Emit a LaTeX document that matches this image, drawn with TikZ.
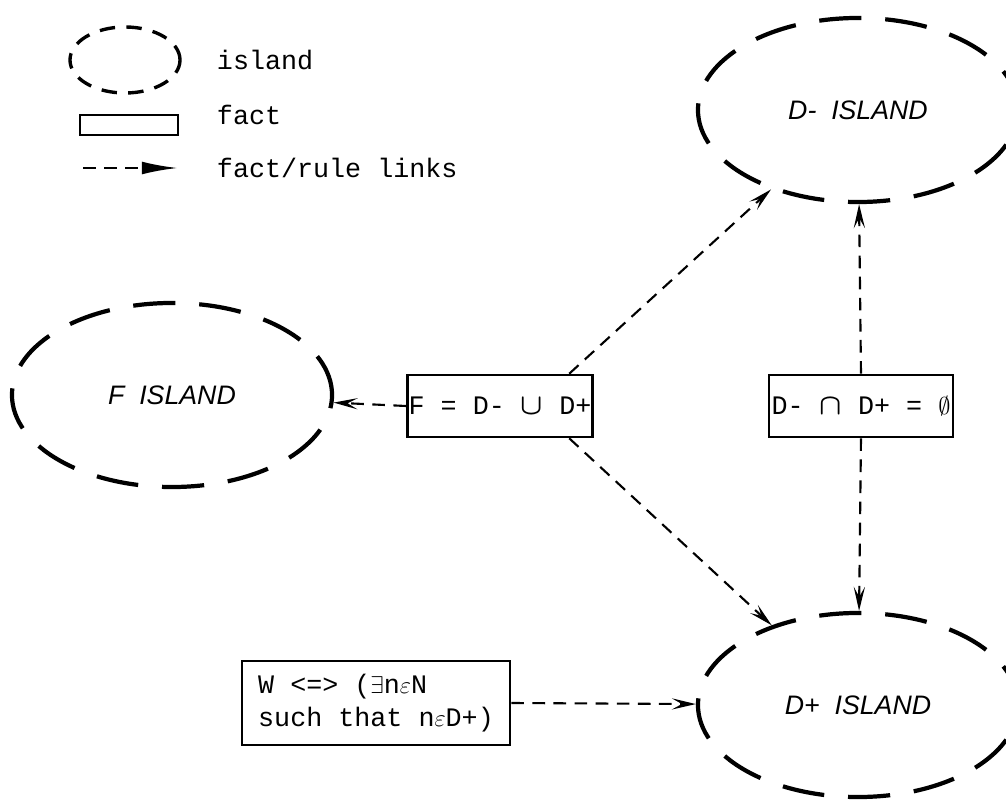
\documentclass[tikz,border=0pt]{standalone}
\usepackage{fontspec}
\usepackage{amsmath}
\setmonofont{Liberation Mono}
\newfontfamily\islandfont{Liberation Sans}
\usetikzlibrary{shapes.geometric,arrows.meta}

\begin{document}
\begin{tikzpicture}[x=0.025cm,y=-0.025cm]
% definizione stile delle isole
\tikzset{isola/.style={ellipse,draw,line width=3pt,dash pattern=on 30pt off 17pt,
  minimum width=8cm, minimum height=4.6cm, font=\islandfont\itshape\fontsize{19}{22}\selectfont}}
% definizione stile dei fatti
\tikzset{fatto/.style={rectangle,draw,line width=1.8pt,inner xsep=1pt,
  minimum height=1.55cm, font=\ttfamily\fontsize{19}{23}\selectfont}}
% definizione stile dei collegamenti
\tikzset{link/.style={line width=1.5pt,dash pattern=on 9pt off 6pt,
  -{Stealth[length=0.6cm,width=0.28cm,inset=0.25cm]}}}
% simboli insiemistici piu' grandi
\newcommand{\insop}[1]{{\fontsize{20}{20}\selectfont$\boldsymbol{#1}$}}

\useasboundingbox (0,0) rectangle (1006,800);

%----
% legenda
\node[ellipse,draw,line width=2.4pt,dash pattern=on 11pt off 8pt,
  minimum width=2.75cm,minimum height=1.65cm] (legisola) at (125,60) {};
\node[fatto,minimum width=2.45cm,minimum height=0.5cm,inner sep=0pt] (legfatto) at (129,125) {};
\coordinate (legA) at (83,168);
\coordinate (legB) at (178,168);
\draw[line width=1.8pt,dash pattern=on 9pt off 6pt,-{Latex[length=0.9cm,width=0.32cm]}] (legA) -- (legB);
\foreach \y/\testo in {60/island,115/fact,168/{fact/rule links}}
\node[anchor=west,font=\ttfamily\fontsize{19}{23}\selectfont] (leg\y) at (212,\y) {\testo};

% inserimento isole
\node[isola] (dmeno) at (858,110) {D- \ ISLAND};
\node[isola] (fisl) at (172,395) {F \ ISLAND};
\node[isola] (dpiu) at (858,705) {D+ \ ISLAND};

% inserimento fatti
\node[fatto,minimum width=4.4cm] (unione) at (500,406) {F = D- \insop{\cup} D+};
\node[fatto,minimum width=4.6cm] (inters) at (861,406) {D- \insop{\cap} D+ = $\emptyset$};
\node[fatto,minimum width=6.7cm,minimum height=2.1cm,align=left] (wfatto) at (376,703)
  {W <=> ($\exists$n$\varepsilon$N\\such that n$\varepsilon$D+)};

% collegamenti fatto/regola
\draw[link] (unione.west) -- (fisl);
\draw[link] (unione.25) -- (dmeno);
\draw[link] (unione.-25) -- (dpiu);
\draw[link] (inters.north) -- (dmeno);
\draw[link] (inters.south) -- (dpiu);
\draw[link] (wfatto.east) -- (dpiu);
\end{tikzpicture}
\end{document}
